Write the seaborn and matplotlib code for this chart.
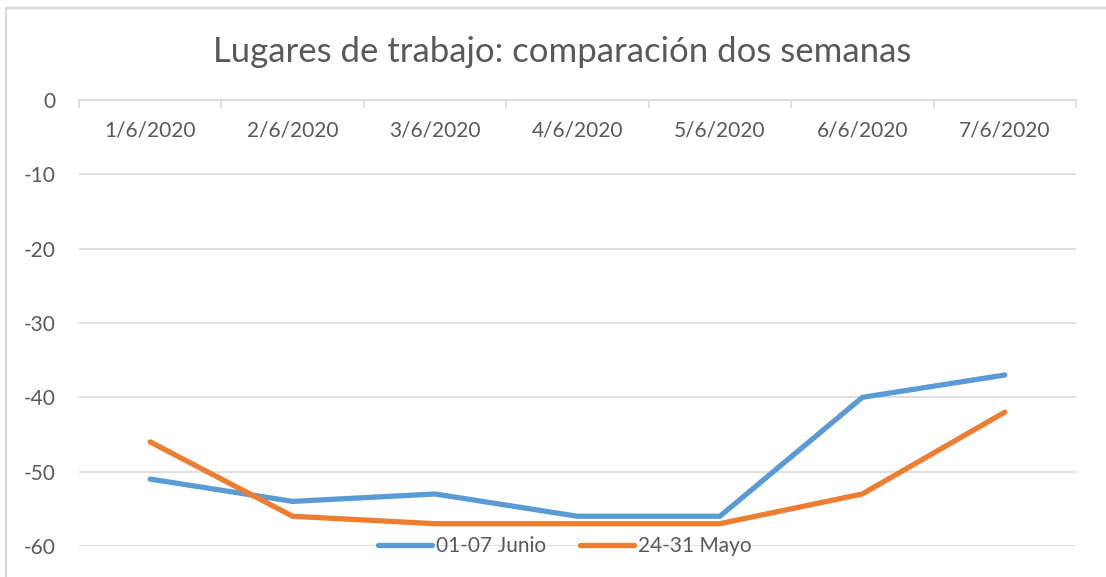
import matplotlib
matplotlib.use("Agg")
import matplotlib.pyplot as plt
from matplotlib.lines import Line2D
import seaborn as sns
import pandas as pd

# Daily values for the workplaces indicator, two consecutive weeks
dates = ["1/6/2020", "2/6/2020", "3/6/2020", "4/6/2020", "5/6/2020", "6/6/2020", "7/6/2020"]
junio = [-51, -54, -53, -56, -56, -40, -37]
mayo = [-46, -56, -57, -57, -57, -53, -42]
series_names = ["01-07 Junio", "24-31 Mayo"]
y_ticks = [0, -10, -20, -30, -40, -50, -60]
title = "Lugares de trabajo: comparación dos semanas"

df = pd.DataFrame({
    "fecha": dates * 2,
    "pos": list(range(len(dates))) * 2,
    "valor": junio + mayo,
    "serie": [series_names[0]] * len(dates) + [series_names[1]] * len(dates),
})

sns.set_theme(style="white")
plt.rcParams["font.family"] = ["Lato", "DejaVu Sans"]

text_color = "#595959"
grid_color = "#d9d9d9"
palette = {series_names[0]: "#5B9BD5", series_names[1]: "#ED7D31"}

fig = plt.figure(figsize=(11.06, 5.77), dpi=100)
ax = fig.add_axes([79 / 1106, 1 - 546 / 577, (1076 - 79) / 1106, (546 - 100) / 577])

sns.lineplot(data=df, x="pos", y="valor", hue="serie", palette=palette,
             linewidth=3.8, ax=ax, legend=False, solid_capstyle="round")

ax.set_xlim(-0.5, len(dates) - 0.5)
ax.set_ylim(-60, 0)
ax.set_yticks(y_ticks)
ax.set_yticklabels([str(v) for v in y_ticks])
ax.tick_params(axis="y", length=0, pad=17, labelsize=15, labelcolor=text_color)
ax.yaxis.grid(True, color=grid_color, linewidth=1.2)
ax.set_axisbelow(True)

# Category axis sits on the zero line at the top, labels hang below it
ax.xaxis.tick_top()
ax.set_xticks(range(len(dates)))
ax.set_xticklabels(dates)
ax.tick_params(axis="x", which="major", length=0, pad=-29, labelsize=15,
               labelcolor=text_color)
ax.set_xticks([i - 0.5 for i in range(len(dates) + 1)], minor=True)
ax.tick_params(axis="x", which="minor", direction="in", length=6, width=1.2,
               color=grid_color, top=True, bottom=False)
ax.set_xlabel("")
ax.set_ylabel("")

for side in ["left", "right", "bottom"]:
    ax.spines[side].set_visible(False)
ax.spines["top"].set_color(grid_color)
ax.spines["top"].set_linewidth(1.2)

handles = [Line2D([0], [0], color=palette[n], linewidth=3.8, solid_capstyle="round")
           for n in series_names]
leg = ax.legend(handles, series_names, loc="center", bbox_to_anchor=(565 / 1106, 1 - 546 / 577),
                bbox_transform=fig.transFigure, ncol=2, frameon=False, fontsize=15,
                handlelength=2.6, handletextpad=0.2, columnspacing=1.6)
for t in leg.get_texts():
    t.set_color(text_color)

fig.text(562 / 1106, 1 - 52 / 577, title, ha="center", va="center",
         fontsize=25, color=text_color)

# Chart frame
fig.add_artist(Line2D([5.5 / 1106, 1], [1 - 8 / 577, 1 - 8 / 577],
                      transform=fig.transFigure, color=grid_color, linewidth=1.5))
fig.add_artist(Line2D([5.5 / 1106, 5.5 / 1106], [0, 1 - 8 / 577],
                      transform=fig.transFigure, color=grid_color, linewidth=1.5))

fig.savefig("out.png", dpi=100, facecolor="white")
